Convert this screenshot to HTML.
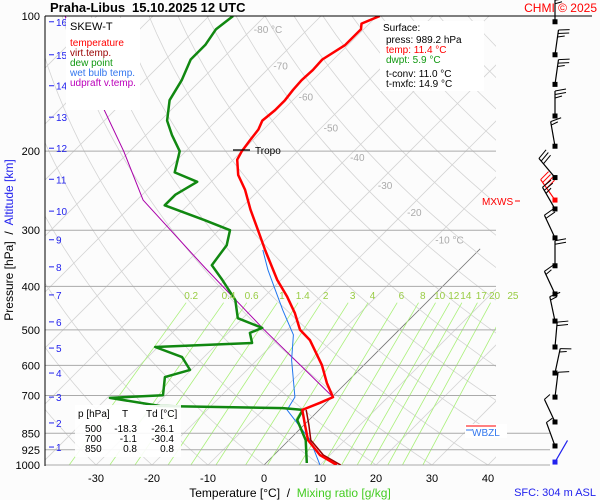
<!DOCTYPE html>
<html><head><meta charset="utf-8"><style>
html,body{margin:0;padding:0;background:#fff}
svg{display:block;font-family:"Liberation Sans",sans-serif}
</style></head><body>
<svg id="c" width="600" height="500" viewBox="0 0 600 500" xmlns="http://www.w3.org/2000/svg">
<defs><clipPath id="pc"><rect x="45" y="16" width="451" height="449"/></clipPath></defs>
<rect x="0" y="0" width="600" height="500" fill="#fcfcfc"/>
<g id="grid" clip-path="url(#pc)"></g>
<g id="plab"></g>
<g id="series" clip-path="url(#pc)"></g>
<g id="labels"></g>
<g id="barbs"></g>
<line x1="45" y1="16" x2="45" y2="466" stroke="#000" stroke-width="1"/>
<line x1="45" y1="16" x2="592" y2="16" stroke="#000" stroke-width="1"/>
<text x="50" y="12" font-size="13" font-weight="bold">Praha-Libus</text>
<text x="132" y="12" font-size="13" font-weight="bold">15.10.2025 12 UTC</text>
<text x="597" y="12" font-size="12" fill="#f00" text-anchor="end">CHMI © 2025</text>
<text x="290" y="497" font-size="12" text-anchor="middle" xml:space="preserve">Temperature [°C]  /  <tspan fill="#44cc22">Mixing ratio [g/kg]</tspan></text>
<text x="596" y="496" font-size="11" fill="#2222ee" text-anchor="end">SFC: 304 m ASL</text>
<text transform="translate(13,240) rotate(-90)" font-size="12" text-anchor="middle" xml:space="preserve">Pressure [hPa]  /  <tspan fill="#2222ee">Altitude [km]</tspan></text>
<rect x="66" y="18" width="74" height="92" fill="#fff"/>
<text x="70" y="30" font-size="11">SKEW-T</text>
<text x="70" y="46" font-size="10" fill="#f00">temperature</text>
<text x="70" y="56" font-size="10" fill="#990000">virt.temp.</text>
<text x="70" y="66" font-size="10" fill="#119911">dew point</text>
<text x="70" y="76" font-size="10" fill="#3377ee">wet bulb temp.</text>
<text x="70" y="86" font-size="10" fill="#bb00bb">udpraft v.temp.</text>
<rect x="380" y="21" width="104" height="70" fill="#fff"/>
<g font-size="10">
<text x="383" y="31">Surface:</text>
<text x="386" y="43">press: 989.2 hPa</text>
<text x="386" y="53" fill="#f00">temp: 11.4 °C</text>
<text x="386" y="63" fill="#119911">dwpt: 5.9 °C</text>
<text x="386" y="77">t-conv: 11.0 °C</text>
<text x="386" y="87">t-mxfc: 14.9 °C</text>
</g>
<rect x="75" y="405" width="106" height="52" fill="#fff" fill-opacity="0.9"/>
<g font-size="10">
<text x="78" y="417">p [hPa]</text><text x="122" y="417">T</text><text x="146" y="417">Td [°C]</text>
<text x="85" y="432">500</text><text x="137" y="432" text-anchor="end">-18.3</text><text x="174" y="432" text-anchor="end">-26.1</text>
<text x="85" y="442">700</text><text x="137" y="442" text-anchor="end">-1.1</text><text x="174" y="442" text-anchor="end">-30.4</text>
<text x="85" y="452">850</text><text x="137" y="452" text-anchor="end">0.8</text><text x="174" y="452" text-anchor="end">0.8</text>
</g>
<line x1="233" y1="150" x2="250" y2="150" stroke="#000" stroke-width="1.2"/>
<text x="255" y="154" font-size="10">Tropo</text>
<text x="482" y="205" font-size="10" fill="#f00">MXWS</text>
<line x1="515" y1="201" x2="520" y2="201" stroke="#f00"/>
<rect x="465" y="424" width="42" height="14" fill="#fff"/>
<line x1="466" y1="426" x2="496" y2="426" stroke="#f00"/>
<text x="472" y="436" font-size="10" fill="#3377ee">WBZL</text>
<line x1="466" y1="430" x2="472" y2="430" stroke="#3377ee"/>
</svg>
<script>
// ---- data ----
const tempP=[1000,950,880,815,754,727,706,657,599,527,500,459,422,387,332,300,270,244,226,209,200,189,179,171,162,154,146,139,132,125,116,107,104,100];
const tempT=[13.0,8.2,3.4,0.2,-3.0,-1.1,0.2,-3.4,-7.5,-14.1,-17.7,-21.6,-25.9,-30.7,-38.2,-43.0,-48.0,-52.5,-56.4,-59.3,-60.0,-60.5,-60.9,-61.8,-61.4,-61.4,-61.8,-62.0,-61.8,-62.0,-60.5,-60.5,-61.4,-59.5];
const virtP=[1000,950,880,815,754];
const virtT=[13.7,8.8,3.9,0.9,-2.3];
const dewP=[990,880,794,754,747,739,709,699,637,614,575,546,535,508,495,471,429,387,359,324,300,285,264,250,234,223,200,184,171,154,139,125,116,107,100];
const dewT=[7.3,3.0,-2.1,-2.9,-6.8,-29.1,-39.5,-30.5,-33.4,-30.2,-33.9,-40.5,-23.9,-26.1,-24.8,-30.9,-34.6,-40.5,-45.0,-45.9,-48.0,-54.3,-64.1,-64.1,-62.5,-68.2,-71.1,-75.4,-78.8,-82.0,-83.4,-85.5,-85.5,-86.4,-85.7];
const wetP=[1000,880,754,706,584,513,452,407,368,332];
const wetT=[10.0,3.8,-5.7,-6.6,-13.8,-18.0,-24.3,-29.3,-34.1,-38.6];
const updP=[706,500,364,257,200,154,100];
const updT=[0.2,-24.1,-45.7,-68.9,-81.1,-94.5,-115.7];
const pLevels=[100,200,300,400,500,600,700,850,925,1000];
const tTicks=[-30,-20,-10,0,10,20,30,40];
const isoLabels=[-80,-70,-60,-50,-40,-30,-20,-10];
const isoLabelP=[107,129,151,177,206,238,273,315];
const mixRatios=[0.2,0.4,0.6,1,1.4,2,3,4,6,8,10,12,14,17,20,25];
const kmLabels=[16,15,14,13,12,11,10,9,8,7,6,5,4,3,2,1];
const kmP=[103,122,143,168,197,231,272,315,362,418,480,549,624,706,806,912];
const windP=[103,122,142,167,195,229,257,269,312,360,416,478,546,624,706,802,907,985];
const windDir=[0,8,8,0,-10,-40,-35,-30,-25,0,-25,-12,5,12,7,-25,-20,30];
const windSpd=[25,25,25,25,15,30,40,25,20,20,15,15,20,15,10,5,5,0];
// ---- axes ----
const NS="http://www.w3.org/2000/svg";
function yP(p){return 465-449*Math.log10(1000/p);}
function xT(t,p){return 264+5.6*t+(465-yP(p));}
function mk(tag,attrs,parent){const e=document.createElementNS(NS,tag);for(const k in attrs)e.setAttribute(k,attrs[k]);parent.appendChild(e);return e;}
const grid=document.getElementById('grid'),plab=document.getElementById('plab'),ser=document.getElementById('series'),lab=document.getElementById('labels'),barbs=document.getElementById('barbs');
// isotherms
for(let t=-160;t<=50;t+=10){
  const pTop=t===0?330:100;
  const l=mk('line',{x1:xT(t,1000),y1:465,x2:xT(t,pTop),y2:yP(pTop),stroke:t===0?'#777':'#d4d4d4','stroke-width':0.8},grid);
  
  
}
// dry adiabats
for(let th=-40;th<=260;th+=10){
  let d='';
  for(let p=1050;p>=95;p-=10){const T=(th+273.15)*Math.pow(p/1000,0.286)-273.15;d+=(d?'L':'M')+xT(T,p).toFixed(1)+','+yP(p).toFixed(1);}
  const a=mk('path',{d:d,fill:'none',stroke:'#d4d4d4','stroke-width':0.8},grid);
  
  
}
// mixing ratio lines
function tdFromW(w,p){const e=w*p/(622+w);const l=Math.log(e/6.112);return 243.5*l/(17.67-l);}
mixRatios.forEach(w=>{
  const m=mk('line',{x1:xT(tdFromW(w,1000),1000),y1:465,x2:xT(tdFromW(w,435),435),y2:yP(435),stroke:'#aaf07a','stroke-width':0.8},grid);
  
  
  const tx=mk('text',{x:xT(tdFromW(w,420),420),y:yP(420)+3,'font-size':10,fill:'#99cc44','text-anchor':'middle'},lab);
  tx.textContent=String(w);
  
  
});
// pressure lines
pLevels.forEach(p=>{
  const y=yP(p);
  const ext=(p>=850)?550:496;
  if(p!==100){const l=mk('line',{x1:45,y1:y,x2:ext,y2:y,stroke:'#aaa','stroke-width':1},plab);
  
  }
  const t=mk('text',{x:40,y:y+4,'font-size':11,'text-anchor':'end'},lab);
  t.textContent=String(p);
  
  
});
// temperature ticks
tTicks.forEach(t=>{
  const tx=mk('text',{x:xT(t,1000),y:482,'font-size':11,'text-anchor':'middle'},lab);
  tx.textContent=String(t);
  
  
});
// isotherm labels
isoLabels.forEach((t,i)=>{
  const p=isoLabelP[i];
  const tx=mk('text',{x:xT(t,p)+2,y:yP(p)+4,'font-size':10,fill:'#aaa'},lab);
  tx.textContent=(t===-80||t===-10)?t+' °C':String(t);
  
  
});
// km labels
kmLabels.forEach((k,i)=>{
  const y=yP(kmP[i]);
  const l=mk('line',{x1:49,y1:y,x2:54,y2:y,stroke:'#2222ee'},lab);
  
  
  const t=mk('text',{x:56,y:y+4,'font-size':10,fill:'#2222ee'},lab);
  t.textContent=String(k);
  
  
});
// series
function line(P,T,color,w,name){
  let d='';P.forEach((p,i)=>{d+=(i?'L':'M')+xT(T[i],p).toFixed(1)+','+yP(p).toFixed(1);});
  const e=mk('path',{d:d,fill:'none',stroke:color,'stroke-width':w,'stroke-linejoin':'round'},ser);
  
  
}
line(updP,updT,'#aa00aa',1,'updraft-line');
line(wetP,wetT,'#2277ee',1,'wet-bulb-line');
line(virtP,virtT,'#990000',1.5,'virtual-temp-line');
line(dewP,dewT,'#118811',2.5,'dew-point-line');
line(tempP,tempT,'#ff0000',2.5,'temperature-line');
// wind barbs
windP.forEach((p,i)=>{
  const y0=yP(p),x0=555,a=windDir[i]*Math.PI/180,L=25;
  const sx=Math.sin(a),sy=-Math.cos(a);
  const col=i===6?'#f00':(i===windP.length-1?'#22e':'#000');
  const x1=x0+sx*L,y1=y0+sy*L;
  const s=mk('line',{x1:x0,y1:y0,x2:x1,y2:y1,stroke:col,'stroke-width':1.2},barbs);
  
  
  const d=mk('rect',{x:x0-2.5,y:y0-2.5,width:5,height:5,fill:col},barbs);
  
  
  let sp=windSpd[i],k=0;
  const px=Math.cos(a),py=Math.sin(a);
  while(sp>=5){
    const len=sp>=10?11:7;
    const bx=x1-sx*k*3.5,by=y1-sy*k*3.5;
    const f=mk('line',{x1:bx,y1:by,x2:bx+px*len+sx*2,y2:by+py*len+sy*2,stroke:col,'stroke-width':1},barbs);
    
    
    sp-=sp>=10?10:5;k++;
  }
});
</script>
</body></html>
